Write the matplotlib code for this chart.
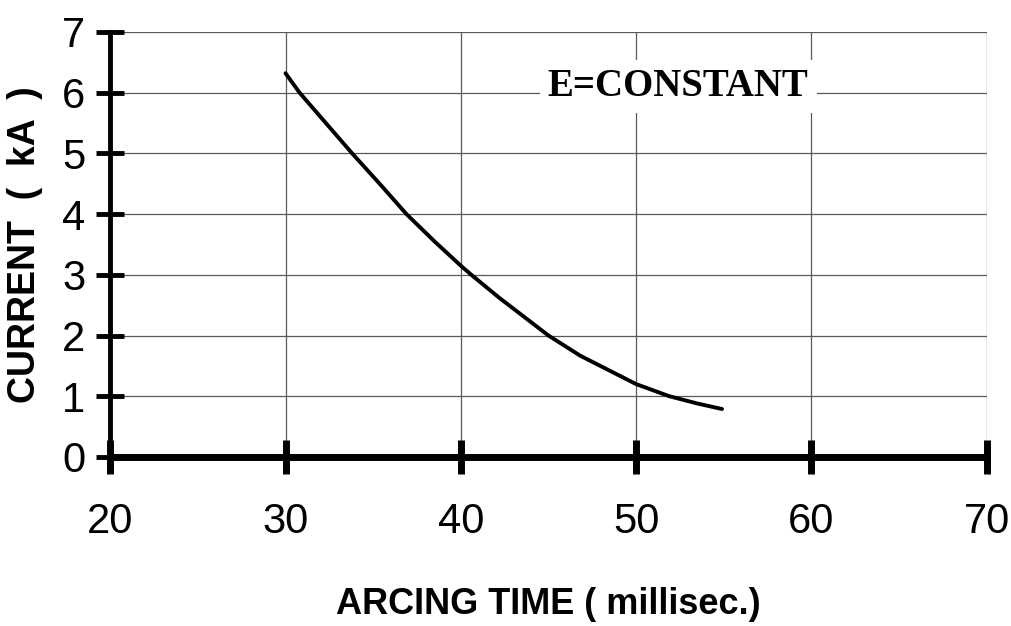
import matplotlib.pyplot as plt

# values
arc_time = [30, 30.8, 32.3, 33.8, 35.4, 36.9, 38.5, 40, 40.6, 42.2, 45, 46.8, 50, 51.9, 53.5, 54.9]
current = [6.32, 6.0, 5.5, 5.0, 4.49, 4.0, 3.55, 3.15, 3.0, 2.62, 2.0, 1.67, 1.2, 1.0, 0.88, 0.79]
x_ticks = [20, 30, 40, 50, 60, 70]
y_ticks = [0, 1, 2, 3, 4, 5, 6, 7]

fig = plt.figure(figsize=(10.11, 6.26), dpi=100)
ax = fig.add_axes([0.109, 0.270, 0.867, 0.679])

ax.plot(arc_time, current, color='black', linewidth=2.8, solid_capstyle='round')

ax.set_xlim(20, 70)
ax.set_ylim(0, 7)
ax.set_xticks(x_ticks)
ax.set_yticks(y_ticks)
ax.grid(True, color='0.35', linewidth=0.9)
ax.set_axisbelow(True)

for side in ['top', 'right']:
    ax.spines[side].set_visible(False)
ax.spines['left'].set_linewidth(3.5)
ax.spines['bottom'].set_linewidth(5)
ax.spines['left'].set_zorder(5)
ax.spines['bottom'].set_zorder(5)

ax.tick_params(axis='y', direction='inout', length=20, width=3.5, pad=8,
               labelsize=30)
ax.tick_params(axis='x', direction='inout', length=25, width=5, pad=20,
               labelsize=30)
for lab in ax.get_xticklabels() + ax.get_yticklabels():
    lab.set_family(['Liberation Sans', 'DejaVu Sans'])

ax.set_xlabel('ARCING TIME ( millisec.)', fontsize=26, fontweight='bold',
              family=['Liberation Sans', 'DejaVu Sans'], labelpad=32)
ax.set_ylabel('CURRENT  (  kA  )', fontsize=27, fontweight='bold',
              family=['Liberation Sans', 'DejaVu Sans'], labelpad=14)

ax.text(52.4, 6.1, 'E=CONSTANT', fontsize=28, fontweight='bold',
        family=['Liberation Serif', 'DejaVu Serif'], ha='center', va='center',
        bbox=dict(facecolor='white', edgecolor='none', pad=6))

fig.savefig('out.png', dpi=100)
